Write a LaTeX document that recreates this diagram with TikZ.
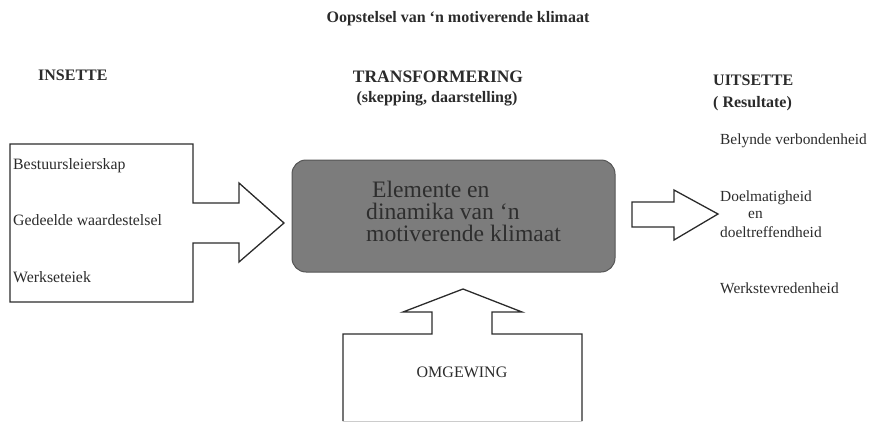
\documentclass[tikz,border=0pt]{standalone}
\usepackage{fontspec}
\setmainfont{Liberation Serif}
\definecolor{ink}{HTML}{2B2B2B}
\definecolor{boxfill}{HTML}{7C7C7C}
\definecolor{boxedge}{HTML}{555555}
\definecolor{boxtext}{HTML}{2E2E2E}
\begin{document}
\begin{tikzpicture}[x=1pt,y=-1pt,
  lbl/.style={inner sep=0pt,anchor=base west,text=ink,font=\fontsize{15.8}{17}\selectfont},
  rlbl/.style={inner sep=0pt,anchor=base west,text=ink,font=\fontsize{15.4}{17}\selectfont},
  hdr/.style={inner sep=0pt,anchor=base,text=ink,font=\fontsize{16}{17}\selectfont\bfseries},
  blk/.style={draw=ink,line width=1.3pt,line join=miter},
  ctext/.style={inner sep=0pt,anchor=base west,text=boxtext,align=left,font=\fontsize{23.6}{22}\selectfont}]
\useasboundingbox (0,0) rectangle (876,423);
% title and headers
\node[hdr] (title) at (458,23) {Oopstelsel van ‘n motiverende klimaat};
\node[hdr,anchor=base west] (insette) at (38,80) {INSETTE};
\node[hdr,font=\fontsize{17.5}{18}\selectfont\bfseries] (transf) at (438,82) {TRANSFORMERING};
\node[hdr] (skep) at (437,102) {(skepping, daarstelling)};
\node[hdr,anchor=base west] (uitsette) at (713,85) {UITSETTE};
\node[hdr,anchor=base west] (result) at (713,107) {( Resultate)};
% left block arrow
\draw[blk] (10,144) -- (193,144) -- (193,203) -- (239,203) -- (239,183) -- (284,223)
  -- (239,262) -- (239,243) -- (193,243) -- (193,302) -- (10,302) -- cycle;
\node[lbl] (bestuur) at (13,169) {Bestuursleierskap};
\node[lbl] (gedeel) at (13,225) {Gedeelde waardestelsel};
\node[lbl] (werks) at (13,282) {Werkseteiek};
% central box
\draw[fill=boxfill,draw=boxedge,line width=1pt,rounded corners=14pt] (292,160) rectangle (615,272);
\node[ctext] (ctxt) at (366,241) {\hspace*{6pt}Elemente en\\dinamika van ‘n\\motiverende klimaat};
% right arrow
\draw[blk] (632,202) -- (674,202) -- (674,190) -- (718,214) -- (674,240) -- (674,227) -- (632,227) -- cycle;
\node[rlbl] (belynde) at (720,144) {Belynde verbondenheid};
\node[rlbl] (doelm) at (720,201) {Doelmatigheid};
\node[rlbl] (en) at (748,218) {en};
\node[rlbl] (doelt) at (720,237) {doeltreffendheid};
\node[rlbl] (werkst) at (720,293) {Werkstevredenheid};
% bottom block arrow
\draw[blk] (343,421) -- (343,334) -- (432,334) -- (432,312) -- (403,312) -- (463,289)
  -- (522,312) -- (492,312) -- (492,334) -- (582,334) -- (582,421);
\draw[gray!40,line width=1pt] (343,421) -- (582,421);
\node[inner sep=0pt,anchor=base,text=ink,font=\fontsize{16}{17}\selectfont] (omg) at (462,377) {OMGEWING};
\end{tikzpicture}
\end{document}
